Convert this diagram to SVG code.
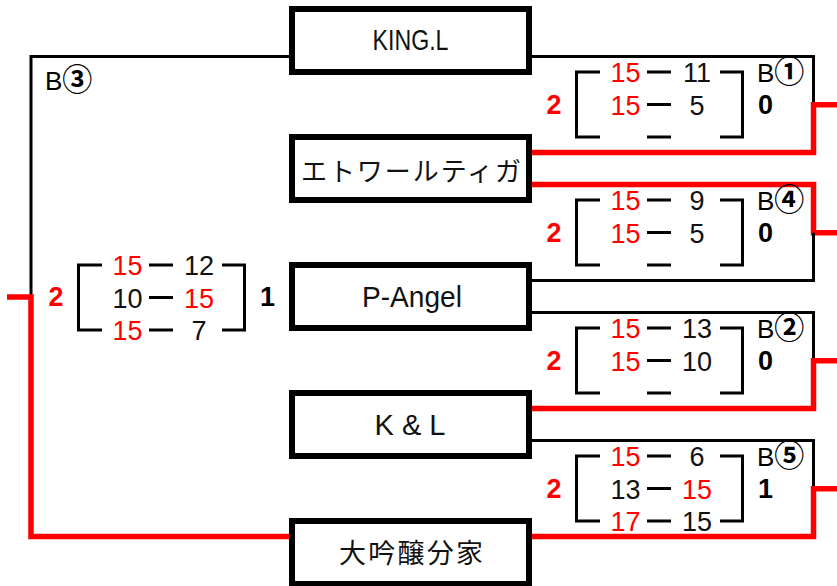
<svg xmlns="http://www.w3.org/2000/svg" xmlns:xlink="http://www.w3.org/1999/xlink" width="837" height="586" viewBox="0 0 837 586">
<style>
.box{fill:#fff;stroke:#000;stroke-width:6}
.lnk{fill:none;stroke:#000;stroke-width:3}
.win{fill:none;stroke:#FF0000;stroke-width:5.5}
.br{fill:none;stroke:#000;stroke-width:3}
.nm{font-family:"Liberation Sans",Arial,sans-serif;font-size:27px;text-anchor:middle;fill:#111}
.nm.r{fill:#FF0000}
.res{font-family:"Liberation Sans",Arial,sans-serif;font-size:27px;font-weight:bold;text-anchor:middle;fill:#000}
.res.r{fill:#FF0000}
.lbl{font-family:"Liberation Sans","Noto Sans CJK JP",sans-serif;font-size:26px;fill:#000}
.circ{font-family:"Noto Sans CJK JP",sans-serif;font-size:30px;font-weight:bold}
.team{font-family:"Liberation Sans","Noto Sans CJK JP",sans-serif;font-size:30px;text-anchor:middle;fill:#111}
.jp{font-family:"Noto Sans CJK JP",sans-serif;font-size:26px;text-anchor:middle;fill:#111}
</style>
<defs>
<g id="brk">
<path class="br" d="M25 0H1.5V65H25M145 0H167.5V65H145M72 0H96M72 32.5H96M72 65H96"/>
</g>
</defs>
<g id="connectors">
<path class="lnk" d="M292 56.5H31V297"/>
<path class="win" d="M7 297H31V536.5H292"/>
<path class="lnk" d="M530 56.5H813.5V104.75"/>
<path class="win" d="M530 152.5H813.5V104.75H837"/>
<path class="win" d="M530 184.5H813.5V232.75H837"/>
<path class="lnk" d="M530 280.5H813.5V232.75"/>
<path class="lnk" d="M530 312.5H813.5V360.75"/>
<path class="win" d="M530 408.5H813.5V360.75H837"/>
<path class="lnk" d="M530 440.5H813.5V488.75"/>
<path class="win" d="M530 536.5H813.5V488.75H837"/>
</g>
<g id="team-kingl"><rect class="box" x="292" y="9" width="237" height="63"/><text class="team" x="410.5" y="50" textLength="76" lengthAdjust="spacingAndGlyphs">KING.L</text></g>
<g id="team-etoile"><rect class="box" x="292" y="137" width="237" height="63"/><text class="jp" x="411" y="181" textLength="220" lengthAdjust="spacing">エトワールティガ</text></g>
<g id="team-pangel"><rect class="box" x="292" y="265" width="237" height="63"/><text class="team" x="412" y="307" textLength="100" lengthAdjust="spacingAndGlyphs">P-Angel</text></g>
<g id="team-kl"><rect class="box" x="292" y="393" width="237" height="63"/><text class="team" x="410" y="435" textLength="71" lengthAdjust="spacingAndGlyphs">K &amp; L</text></g>
<g id="team-daiginjo"><rect class="box" x="292" y="521" width="237" height="63"/><text class="jp" x="411" y="563" textLength="144" lengthAdjust="spacing" style="font-size:27px">大吟醸分家</text></g>
<text class="lbl" x="45" y="90">B<tspan class="circ">③</tspan></text>
<g id="score-b3" transform="translate(77,265)">
<use xlink:href="#brk"/>
<text class="res r" x="-21" y="41">2</text>
<text class="res" x="190.5" y="41">1</text>
<text class="nm r" x="50.5" y="10">15</text><text class="nm" x="122" y="10">12</text>
<text class="nm" x="50.5" y="42.5">10</text><text class="nm r" x="122" y="42.5">15</text>
<text class="nm r" x="50.5" y="75">15</text><text class="nm" x="122" y="75">7</text>
</g>
<g id="score-b1" transform="translate(575,72)">
<use xlink:href="#brk"/>
<text class="lbl" x="182" y="10">B<tspan class="circ">①</tspan></text>
<text class="res r" x="-21" y="42">2</text>
<text class="res" x="190.5" y="42">0</text>
<text class="nm r" x="50.5" y="10">15</text><text class="nm" x="122" y="10">11</text>
<text class="nm r" x="50.5" y="42.5">15</text><text class="nm" x="122" y="42.5">5</text>
</g>
<g id="score-b4" transform="translate(575,200)">
<use xlink:href="#brk"/>
<text class="lbl" x="182" y="10">B<tspan class="circ">④</tspan></text>
<text class="res r" x="-21" y="42">2</text>
<text class="res" x="190.5" y="42">0</text>
<text class="nm r" x="50.5" y="10">15</text><text class="nm" x="122" y="10">9</text>
<text class="nm r" x="50.5" y="42.5">15</text><text class="nm" x="122" y="42.5">5</text>
</g>
<g id="score-b2" transform="translate(575,328)">
<use xlink:href="#brk"/>
<text class="lbl" x="182" y="10">B<tspan class="circ">②</tspan></text>
<text class="res r" x="-21" y="42">2</text>
<text class="res" x="190.5" y="42">0</text>
<text class="nm r" x="50.5" y="10">15</text><text class="nm" x="122" y="10">13</text>
<text class="nm r" x="50.5" y="42.5">15</text><text class="nm" x="122" y="42.5">10</text>
</g>
<g id="score-b5" transform="translate(575,456)">
<use xlink:href="#brk"/>
<text class="lbl" x="182" y="10">B<tspan class="circ">⑤</tspan></text>
<text class="res r" x="-21" y="42">2</text>
<text class="res" x="190.5" y="42">1</text>
<text class="nm r" x="50.5" y="10">15</text><text class="nm" x="122" y="10">6</text>
<text class="nm" x="50.5" y="42.5">13</text><text class="nm r" x="122" y="42.5">15</text>
<text class="nm r" x="50.5" y="75">17</text><text class="nm" x="122" y="75">15</text>
</g>
</svg>
